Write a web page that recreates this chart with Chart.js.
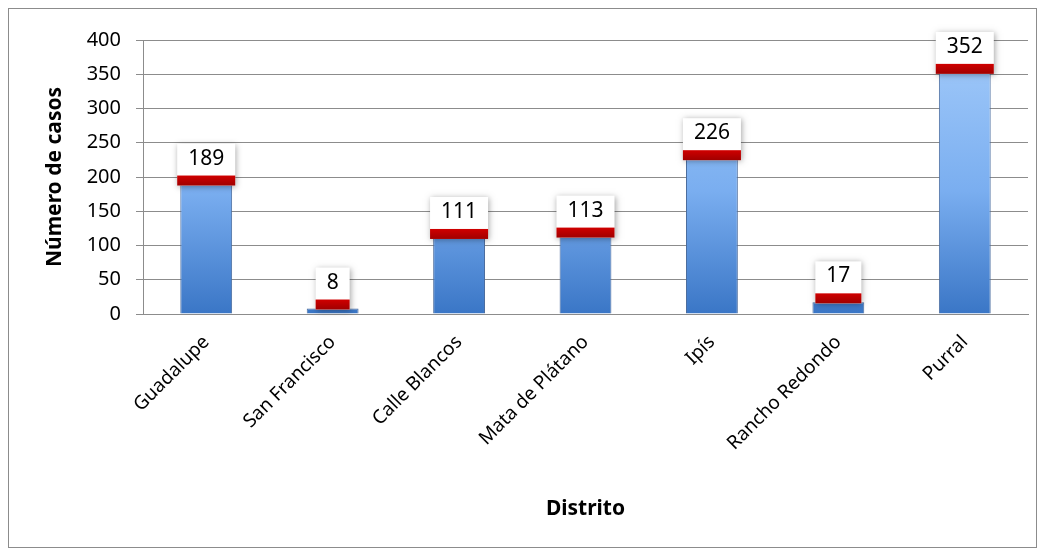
<!DOCTYPE html>
<html lang="es">
<head>
    <meta charset="UTF-8">
    <title>Número de casos por distrito</title>
    <style>
        body {
            margin: 0;
            padding: 0;
            background: #ffffff;
        }
        #wrap {
            width: 1045px;
            height: 550px;
        }
    </style>
</head>
<body>
    <div id="wrap"><canvas id="barChart" width="1045" height="550"></canvas></div>

    <script src="https://cdn.jsdelivr.net/npm/chart.js"></script>
    <script>
        // Datos del gráfico
        const distritos = ['Guadalupe', 'San Francisco', 'Calle Blancos', 'Mata de Plátano', 'Ipís', 'Rancho Redondo', 'Purral'];
        const casos = [189, 8, 111, 113, 226, 17, 352];
        const yTicks = [0, 50, 100, 150, 200, 250, 300, 350, 400];

        const FONT = '"Noto Sans", "Liberation Sans", sans-serif';

        // Marco gris alrededor del gráfico
        const framePlugin = {
            id: 'frame',
            beforeDraw(chart) {
                const ctx = chart.ctx;
                ctx.save();
                ctx.fillStyle = '#ffffff';
                ctx.fillRect(0, 0, chart.width, chart.height);
                ctx.strokeStyle = '#8c8c8c';
                ctx.lineWidth = 1;
                ctx.strokeRect(8.5, 8.5, 1028, 539);
                ctx.restore();
            }
        };

        // Etiquetas de valor: caja blanca con banda roja
        const valueLabels = {
            id: 'valueLabels',
            afterDatasetsDraw(chart) {
                const ctx = chart.ctx;
                const meta = chart.getDatasetMeta(0);
                ctx.save();
                ctx.font = '21px ' + FONT;
                meta.data.forEach((bar, i) => {
                    const txt = String(casos[i]);
                    const w = ctx.measureText(txt).width + 22;
                    const h = 42;
                    const x = bar.x - w / 2;
                    const bottom = bar.y + 1;
                    const top = bottom - h;

                    ctx.save();
                    ctx.shadowColor = 'rgba(0,0,0,0.35)';
                    ctx.shadowBlur = 6;
                    ctx.shadowOffsetX = 1;
                    ctx.shadowOffsetY = 1;
                    ctx.fillStyle = '#ffffff';
                    ctx.fillRect(x, top, w, h);
                    ctx.restore();

                    const g = ctx.createLinearGradient(0, bottom - 10, 0, bottom);
                    g.addColorStop(0, '#d00000');
                    g.addColorStop(1, '#a00000');
                    ctx.fillStyle = g;
                    ctx.fillRect(x, bottom - 10, w, 10);

                    ctx.fillStyle = '#000000';
                    ctx.textAlign = 'center';
                    ctx.textBaseline = 'middle';
                    ctx.fillText(txt, bar.x, top + 15);
                });
                ctx.restore();
            }
        };

        function barFill(context) {
            const area = context.chart.chartArea;
            if (!area) return '#7aaef0';
            const g = context.chart.ctx.createLinearGradient(0, area.top, 0, area.bottom);
            g.addColorStop(0, '#a3cbfa');
            g.addColorStop(0.55, '#7aaef0');
            g.addColorStop(1, '#3a76c6');
            return g;
        }

        new Chart(document.getElementById('barChart').getContext('2d'), {
            type: 'bar',
            data: {
                labels: distritos,
                datasets: [{
                    label: 'Número de casos',
                    data: casos,
                    backgroundColor: barFill,
                    borderColor: '#4a6c9e',
                    borderWidth: 1,
                    barPercentage: 0.41,
                    categoryPercentage: 1.0
                }]
            },
            options: {
                responsive: false,
                animation: false,
                layout: {
                    padding: { left: 8, top: 40, right: 17, bottom: 30 }
                },
                plugins: {
                    legend: { display: false },
                    tooltip: { enabled: false }
                },
                scales: {
                    x: {
                        grid: { display: false },
                        border: { display: true, color: '#8c8c8c', width: 1 },
                        ticks: {
                            color: '#000000',
                            font: { family: FONT, size: 19 },
                            maxRotation: 45,
                            minRotation: 45,
                            autoSkip: false,
                            padding: 9
                        },
                        title: {
                            display: true,
                            text: 'Distrito',
                            color: '#000000',
                            font: { family: FONT, size: 21, weight: 'bold' },
                            padding: { top: 0, bottom: -2 }
                        },
                        afterFit(scale) { scale.height = 206; }
                    },
                    y: {
                        min: 0,
                        max: 400,
                        afterBuildTicks(scale) {
                            scale.ticks = yTicks.map(v => ({ value: v }));
                        },
                        grid: {
                            color: '#8c8c8c',
                            lineWidth: 1,
                            drawTicks: true,
                            tickLength: 7
                        },
                        border: { display: true, color: '#8c8c8c', width: 1 },
                        ticks: {
                            color: '#000000',
                            font: { family: FONT, size: 20 },
                            padding: 15
                        },
                        title: {
                            display: true,
                            text: 'Número de casos',
                            color: '#000000',
                            font: { family: FONT, size: 21, weight: 'bold' },
                            padding: { top: 34, bottom: 0 }
                        },
                        afterFit(scale) { scale.width = 135; }
                    }
                }
            },
            plugins: [framePlugin, valueLabels]
        });
    </script>
</body>
</html>
